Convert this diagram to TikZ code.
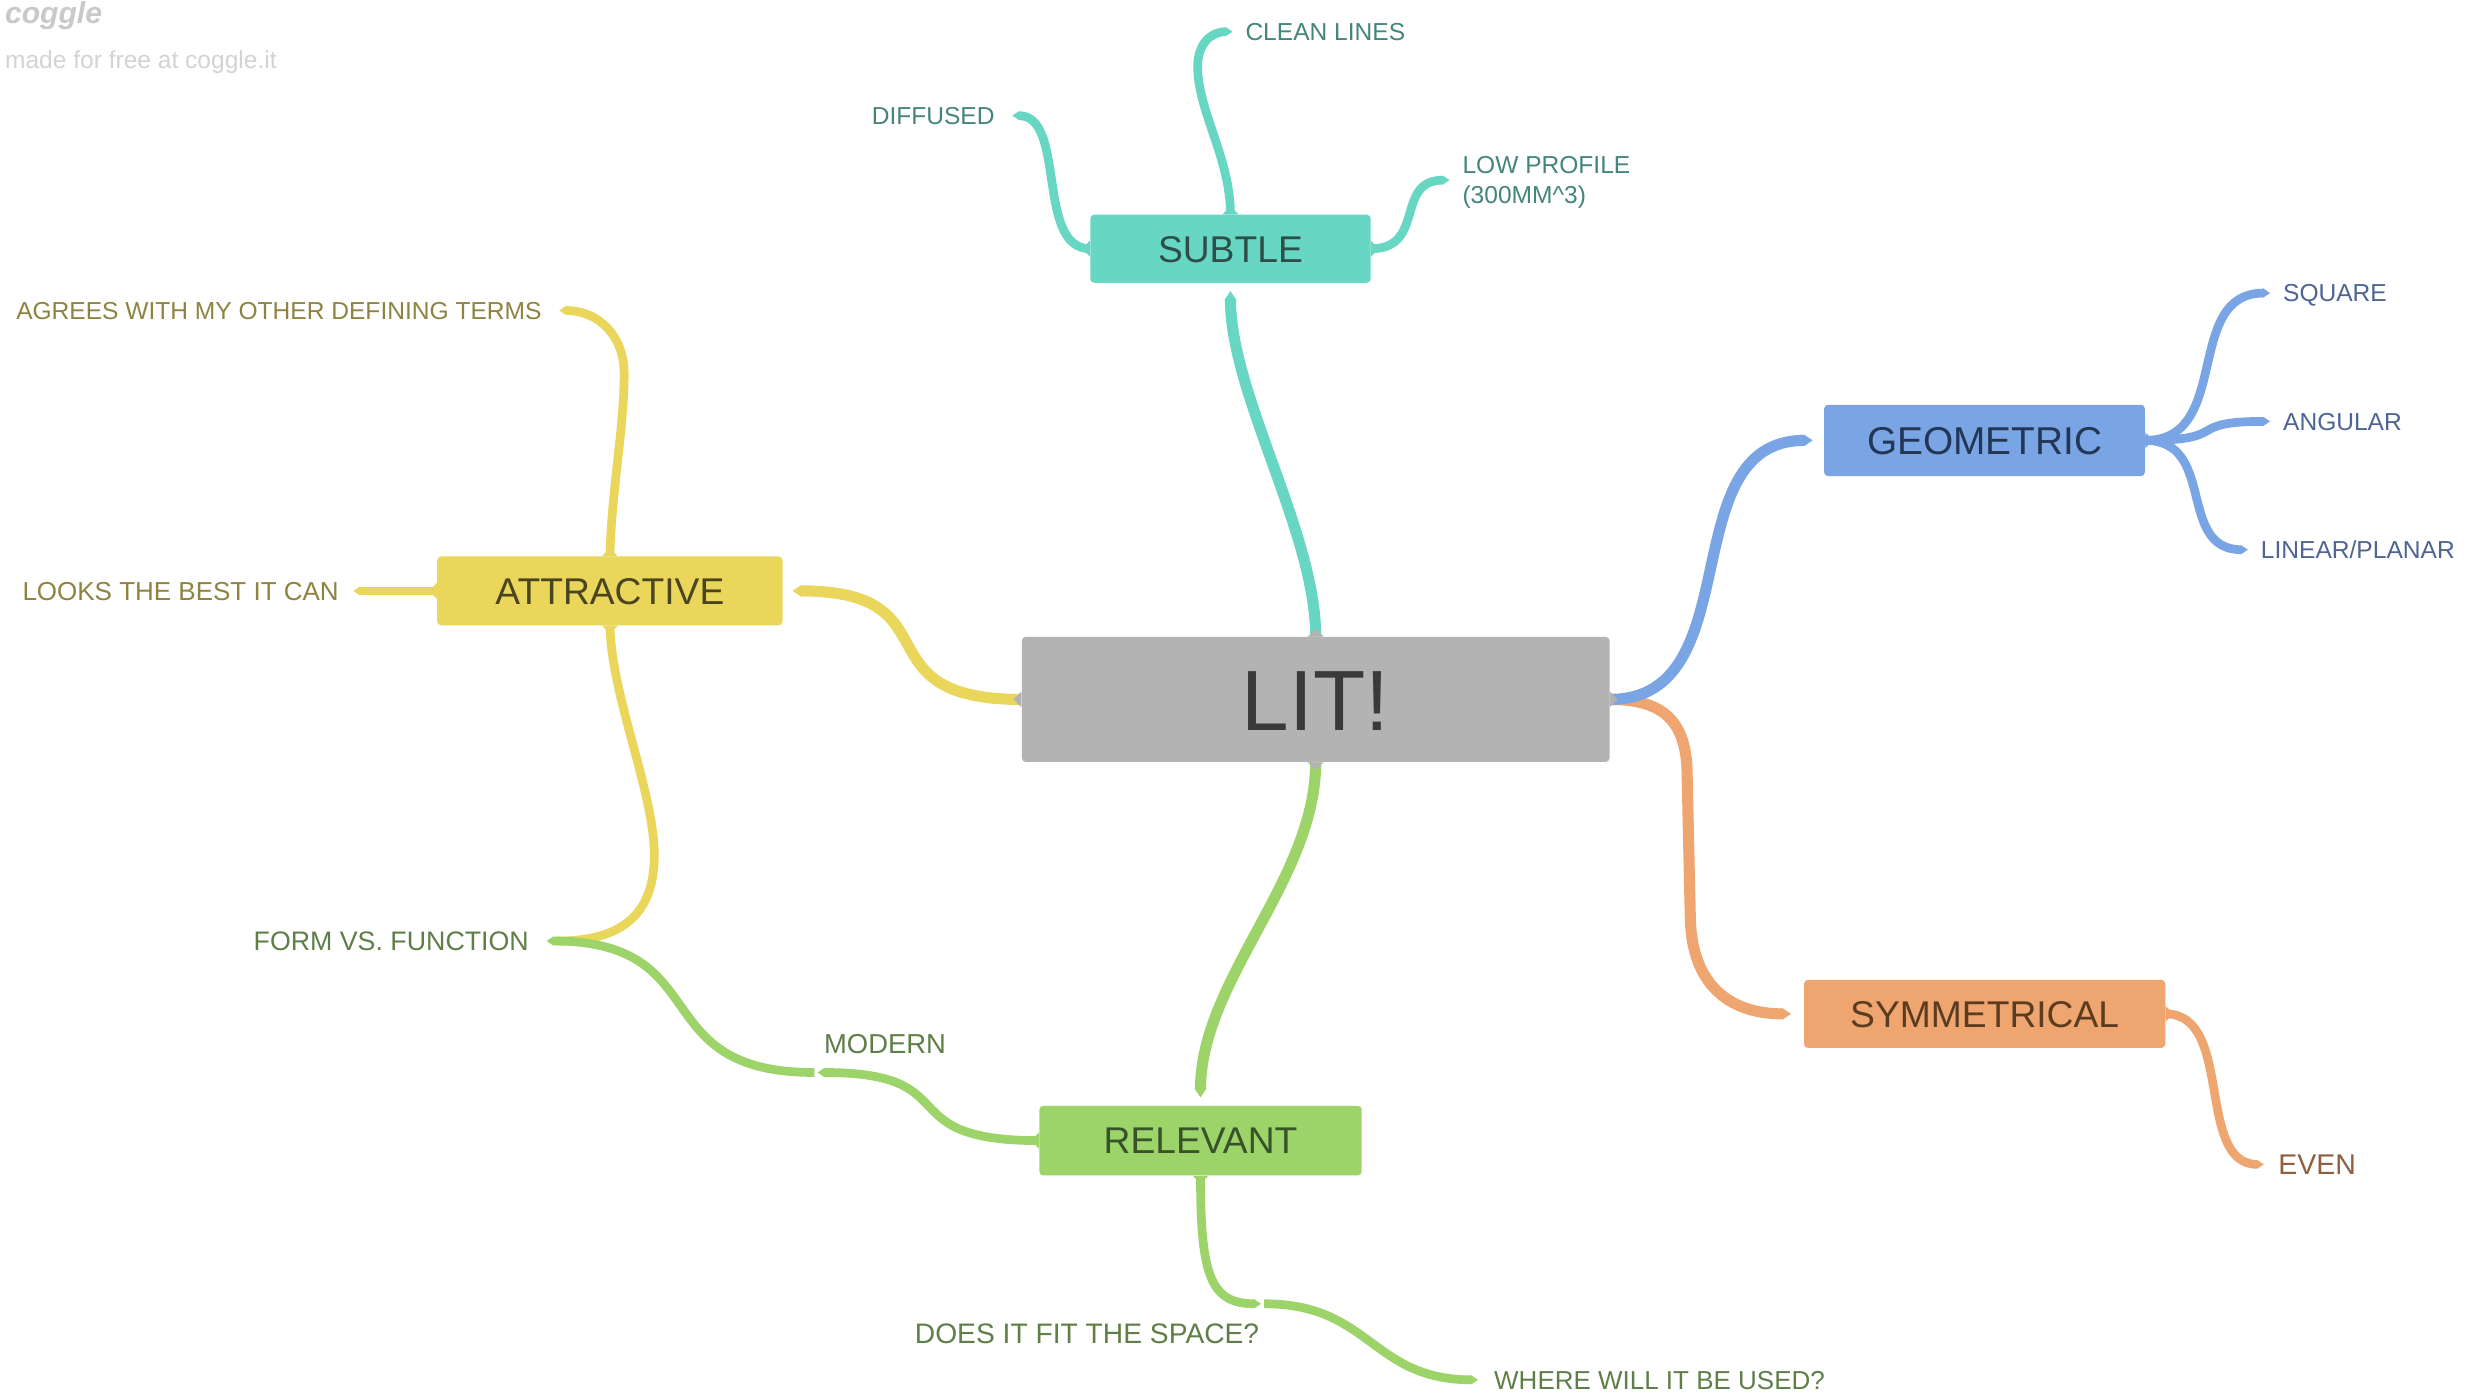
\documentclass[tikz,border=0pt]{standalone}
\usepackage{fontspec}
\setmainfont{Liberation Sans}
\usetikzlibrary{calc,arrows.meta}
\definecolor{litgray}{HTML}{B3B3B3}
\definecolor{littx}{HTML}{3A3A3A}
\definecolor{teal1}{HTML}{67D6C3}
\definecolor{blue1}{HTML}{79A5E5}
\definecolor{yel1}{HTML}{E9D65B}
\definecolor{grn1}{HTML}{9DD46A}
\definecolor{org1}{HTML}{EFA56F}
\definecolor{tealtx}{HTML}{2E4E49}
\definecolor{bluetx}{HTML}{243656}
\definecolor{yeltx}{HTML}{4A4520}
\definecolor{grntx}{HTML}{38532A}
\definecolor{orgtx}{HTML}{5C3C20}
\definecolor{tealleaf}{HTML}{44857C}
\definecolor{blueleaf}{HTML}{4D6494}
\definecolor{yelleaf}{HTML}{8E8440}
\definecolor{grnleaf}{HTML}{5F7E48}
\definecolor{orgleaf}{HTML}{8C6040}
\definecolor{logogray}{HTML}{C9C9C9}
\definecolor{madegray}{HTML}{D3D3D3}
\newcommand\fsz[1]{\fontsize{#1}{#1}\selectfont}
\newcommand\mtabN[2]{\fill[#2] ([xshift=-5pt]#1.north) -- ([xshift=5pt]#1.north) -- ([yshift=5pt]#1.north) -- cycle;}
\newcommand\mtabS[2]{\fill[#2] ([xshift=-5pt]#1.south) -- ([xshift=5pt]#1.south) -- ([yshift=-5pt]#1.south) -- cycle;}
\newcommand\mtabW[2]{\fill[#2] ([yshift=-5pt]#1.west) -- ([yshift=5pt]#1.west) -- ([xshift=-5pt]#1.west) -- cycle;}
\newcommand\mtabE[2]{\fill[#2] ([yshift=-5pt]#1.east) -- ([yshift=5pt]#1.east) -- ([xshift=5pt]#1.east) -- cycle;}
\begin{document}
\begin{tikzpicture}[x=1pt,y=-1pt,
  box/.style={rectangle, rounded corners=2.5pt, inner sep=0pt, text height=16.8pt, text depth=0pt, font=\fsz{23.5}},
  leaf/.style={inner sep=0pt, text depth=0pt, text height=11.1pt, font=\fsz{15.5}},
  conn/.style={line width=5.5pt, -{Triangle[length=0pt 0.8, width=0pt 1]}},
  mainc/.style={line width=7pt, -{Triangle[length=0pt 0.8, width=0pt 1]}},
  hs/.style={to path={let \p1=(\tikztostart), \p2=(\tikztotarget) in .. controls ({\x1+#1*(\x2-\x1)},\y1) and ({\x2-#1*(\x2-\x1)},\y2) .. (\tikztotarget)}},
  hs/.default=0.7,
  vs/.style={to path={let \p1=(\tikztostart), \p2=(\tikztotarget) in .. controls (\x1,{\y1+#1*(\y2-\y1)}) and (\x2,{\y2-#1*(\y2-\y1)}) .. (\tikztotarget)}},
  vs/.default=0.3]
\fill[white] (0,0) rectangle (1568,882);
\useasboundingbox (0,0) rectangle (1568,882);

% logo
\node[anchor=base west, inner sep=0pt, text=logogray, font=\fsz{19}\bfseries\itshape] (logo) at (3,15) {coggle};
\node[anchor=base west, inner sep=0pt, text=madegray, font=\fsz{15.5}] (made) at (3,43) {made for free at coggle.it};

% boxes
\node[box, fill=litgray, minimum width=371pt, minimum height=79pt, font=\fsz{54}, text height=38.7pt, text=littx] (lit) at (830.5,441.5) {LIT!};
\node[box, fill=teal1, minimum width=177pt, minimum height=43pt, text=tealtx] (subtle) at (776.7,157) {SUBTLE};
\node[box, fill=blue1, minimum width=202.5pt, minimum height=45pt, text=bluetx, font=\fsz{24.5}, text height=17.5pt] (geo) at (1252.7,278) {GEOMETRIC};
\node[box, fill=yel1, minimum width=218pt, minimum height=43.5pt, text=yeltx] (attr) at (385,373) {ATTRACTIVE};
\node[box, fill=org1, minimum width=228pt, minimum height=43pt, text=orgtx] (sym) at (1252.8,640) {SYMMETRICAL};
\node[box, fill=grn1, minimum width=203.5pt, minimum height=44pt, text=grntx] (rel) at (757.8,720) {RELEVANT};

% leaves
\node[leaf, text=tealleaf, anchor=west] (clean) at (786,20) {CLEAN LINES};
\node[leaf, text=tealleaf, anchor=east] (diff) at (628,73) {DIFFUSED};
\node[inner sep=0pt, text=tealleaf, anchor=north west, align=left, font=\fontsize{15.5}{19}\selectfont] (lowp) at (923,98.5) {LOW PROFILE\\(300MM\textasciicircum 3)};
\node[leaf, text=yelleaf, anchor=east] (agree) at (342,196) {AGREES WITH MY OTHER DEFINING TERMS};
\node[leaf, text=yelleaf, anchor=east, font=\fsz{16.4}, text height=11.7pt] (looks) at (214,373) {LOOKS THE BEST IT CAN};
\node[leaf, text=grnleaf, anchor=east, font=\fsz{16.9}, text height=12.1pt] (form) at (334,594) {FORM VS. FUNCTION};
\node[leaf, text=grnleaf, anchor=west, font=\fsz{17.3}, text height=12.4pt] (modern) at (520,659) {MODERN};
\node[leaf, text=grnleaf, anchor=east, font=\fsz{17.8}, text height=12.7pt] (does) at (795,842) {DOES IT FIT THE SPACE?};
\node[leaf, text=grnleaf, anchor=west, font=\fsz{16.4}, text height=11.7pt] (where) at (943,871) {WHERE WILL IT BE USED?};
\node[leaf, text=blueleaf, anchor=west] (square) at (1441,185) {SQUARE};
\node[leaf, text=blueleaf, anchor=west] (ang) at (1441,266) {ANGULAR};
\node[leaf, text=blueleaf, anchor=west] (lin) at (1427,347) {LINEAR/PLANAR};
\node[leaf, text=orgleaf, anchor=west, font=\fsz{18}, text height=12.9pt] (even) at (1438,735) {EVEN};

\coordinate (jmod) at ([xshift=-4pt,yshift=-18pt]modern.west);
\coordinate (jdoes) at ([xshift=1pt,yshift=19pt]does.east);

% teal branch
\draw[mainc, teal1] (lit.north) to[vs=0.3] ([yshift=-5pt]subtle.south);
\draw[conn, teal1] (subtle.west) to[hs] ([xshift=11pt]diff.east);
\draw[conn, teal1] (subtle.north) .. controls (776.7,100) and (756,70) .. (756,42) .. controls (756,28) and (764,20) .. ([xshift=-8pt]clean.west);
\draw[conn, teal1] (subtle.east) to[hs] ([xshift=-8pt,yshift=1.5pt]lowp.west);

% yellow branch
\draw[mainc, yel1] (lit.west) to[hs=0.72] ([xshift=6pt]attr.east);
\draw[conn, yel1] (attr.north) .. controls (386,310) and (394,270) .. (394,236) .. controls (394,212) and (378,196) .. ([xshift=11pt]agree.east);
\draw[conn, yel1] (attr.west) -- ([xshift=9pt]looks.east);
\draw[conn, yel1] (attr.south) .. controls (386,440) and (413,500) .. (413,540) .. controls (413,575) and (395,594) .. ([xshift=14pt]form.east);

% green branch
\draw[mainc, grn1] (lit.south) to[vs=0.35] ([yshift=5pt]rel.north);
\draw[conn, grn1] (rel.west) to[hs=0.69] (jmod);
\draw[conn, grn1] ([xshift=-2pt]jmod) to[hs=0.64] ([xshift=11pt]form.east);
\draw[conn, grn1] (rel.south) .. controls (757.8,805) and (764,823) .. (jdoes);
\draw[conn, grn1] ([xshift=2pt]jdoes) to[hs=0.5] ([xshift=-10pt]where.west);

% orange and blue branches
\draw[mainc, org1] (lit.east) .. controls (1050,441.5) and (1065,455) .. (1065,490) -- (1067,580) .. controls (1068,620) and (1090,640) .. ([xshift=-8pt]sym.west);
\draw[mainc, blue1] (lit.east) to[hs=0.7] ([xshift=-7pt]geo.west);
\draw[conn, blue1] (geo.east) to[hs] ([xshift=-8pt]square.west);
\draw[conn, blue1] (geo.east) to[hs] ([xshift=-8pt]ang.west);
\draw[conn, blue1] (geo.east) to[hs] ([xshift=-8pt]lin.west);
\draw[conn, org1] (sym.east) to[hs] ([xshift=-9pt]even.west);

% tabs at parent ports
\mtabN{lit}{litgray}\mtabS{lit}{litgray}\mtabW{lit}{litgray}\mtabE{lit}{litgray}
\mtabW{subtle}{teal1}\mtabN{subtle}{teal1}\mtabE{subtle}{teal1}
\mtabN{attr}{yel1}\mtabW{attr}{yel1}\mtabS{attr}{yel1}
\mtabE{geo}{blue1}\mtabE{sym}{org1}
\mtabW{rel}{grn1}\mtabS{rel}{grn1}
\end{tikzpicture}
\end{document}
